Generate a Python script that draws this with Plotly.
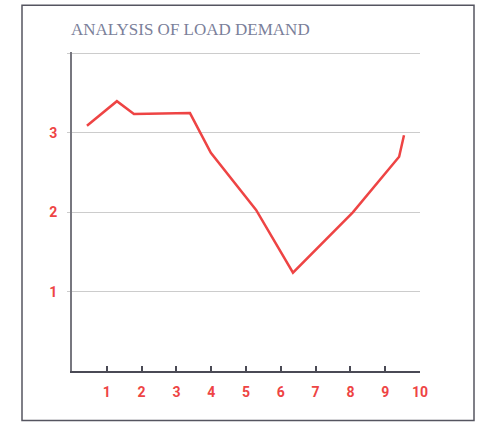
import plotly.graph_objects as go

x_vals = [0.43, 1.29, 1.78, 3.39, 3.99, 5.29, 6.35, 8.07, 9.40, 9.54]
y_vals = [3.09, 3.40, 3.24, 3.25, 2.75, 2.03, 1.24, 2.00, 2.70, 2.97]
x_ticks = [1, 2, 3, 4, 5, 6, 7, 8, 9, 10]
y_ticks = [1, 2, 3, 4]
y_labels = ["1", "2", "3", ""]
title_text = "ANALYSIS OF LOAD DEMAND"

W, H = 477, 428
Y_TOP = 4.02
L, R, B = 72, 420, 371.5
T = B - 79.5 * Y_TOP
pw, ph = R - L, B - T

def px(xp):
    return (xp - L) / pw

def py(yp):
    return (B - yp) / ph

red = "#ee4444"
fig = go.Figure()
fig.add_trace(go.Scatter(x=x_vals, y=y_vals, mode="lines",
                         line=dict(color=red, width=2.5), hoverinfo="skip"))

tickfont = dict(family="Roboto", size=14, color=red)
fig.update_layout(
    width=W, height=H,
    margin=dict(l=L, r=W - R, t=T, b=H - B, pad=0),
    paper_bgcolor="white", plot_bgcolor="white",
    showlegend=False,
    xaxis=dict(range=[0, 10], tickvals=x_ticks, ticktext=[f"<b>{v}</b>" for v in x_ticks],
               showgrid=False, zeroline=False, showline=True, linecolor="#4a4a55", linewidth=2,
               ticks="inside", ticklen=5, tickwidth=2, tickcolor="#4a4a55",
               tickfont=tickfont, ticklabelstandoff=7),
    yaxis=dict(range=[0, Y_TOP], tickvals=y_ticks,
               ticktext=[f"<b>{v}</b>" if v else "" for v in y_labels],
               showgrid=True, gridcolor="#cccccc", gridwidth=1.2, zeroline=False,
               showline=True, linecolor="#77777f", linewidth=2,
               ticks="outside", ticklen=3, tickcolor="#cccccc", tickwidth=1.2,
               tickfont=tickfont, ticklabelstandoff=7),
    shapes=[dict(type="rect", xref="paper", yref="paper",
                 x0=px(22), x1=px(474), y0=py(421), y1=py(5),
                 line=dict(color="#555560", width=1.5), layer="below")],
    annotations=[dict(text=title_text, xref="paper", yref="paper",
                      x=px(69), y=py(29), xanchor="left", yanchor="middle",
                      showarrow=False,
                      font=dict(family="Liberation Serif", size=17, color="#7b7f9a"))],
)
fig.write_html("out.html", config={"displayModeBar": False},
               post_script="document.body.style.margin='0';")
